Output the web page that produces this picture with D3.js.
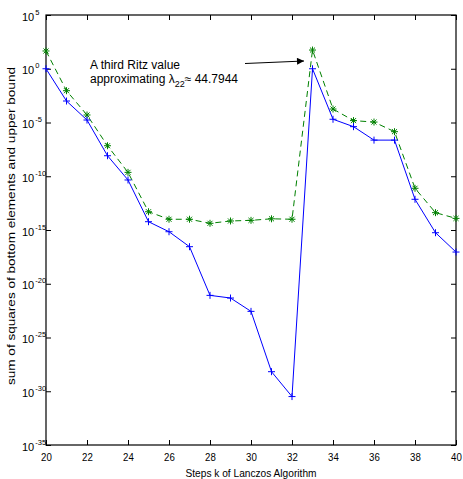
<!DOCTYPE html>
<html>
<head>
<meta charset="utf-8">
<script src="https://cdn.jsdelivr.net/npm/d3@7"></script>
<style>
  body { margin: 0; background: #fff; }
  svg { display: block; }
</style>
</head>
<body>
<div id="visualization"></div>
<script>
// data
const steps = [20, 21, 22, 23, 24, 25, 26, 27, 28, 29, 30, 31, 32, 33, 34, 35, 36, 37, 38, 39, 40];
const sumSquares = [1, 1e-3, 1.7e-5, 8.1e-9, 4.5e-11, 5.9e-15, 6.9e-16, 2.8e-17, 8.3e-22, 4.7e-22, 2.7e-23,
  6.6e-29, 3.2e-31, 1, 2.0e-5, 4.1e-6, 2.3e-7, 2.3e-7, 7.2e-13, 5.6e-16, 8.9e-18];
const upperBound = [45, 9.1e-3, 5.0e-5, 6.9e-8, 2.3e-10, 5.0e-14, 1.0e-14, 1.0e-14, 4.2e-15, 6.9e-15, 7.9e-15,
  1.1e-14, 1.0e-14, 55, 1.8e-4, 1.5e-5, 1.1e-5, 1.4e-6, 7.6e-12, 4.1e-14, 1.2e-14];
const xTicks = [20, 22, 24, 26, 28, 30, 32, 34, 36, 38, 40];
const yTickExponents = [5, 0, -5, -10, -15, -20, -25, -30, -35];

const viewBox = { width: 463, height: 479, left: 46, right: 456, top: 15, bottom: 445 };
const font = "Arial, 'Liberation Sans', Helvetica, sans-serif";

const svg = d3
  .select("#visualization")
  .append("svg")
  .attr("width", viewBox.width)
  .attr("height", viewBox.height);

// scales
const xScale = d3.scaleLinear().domain([20, 40]).range([viewBox.left, viewBox.right]);
const yScale = d3.scaleLog().domain([1e-35, 1e5]).range([viewBox.bottom, viewBox.top]);
const yTicks = yTickExponents.map((e) => Math.pow(10, e));

// bottom axis with labels, ticks pointing inside
const xAxis = svg
  .append("g")
  .attr("transform", "translate(0," + viewBox.bottom + ")")
  .call(d3.axisBottom(xScale).tickValues(xTicks).tickSizeInner(-5).tickSizeOuter(0).tickPadding(8));
xAxis.selectAll(".tick text")
  .attr("font-size", 11)
  .attr("font-family", font)
  .attr("fill", "#000")
  .attr("transform", "scale(0.88,1)");

// top axis, ticks only
svg
  .append("g")
  .attr("transform", "translate(0," + viewBox.top + ")")
  .call(d3.axisTop(xScale).tickValues(xTicks).tickSizeInner(-5).tickSizeOuter(0).tickFormat(""));

// left axis with 10^n labels
const yAxis = svg
  .append("g")
  .attr("transform", "translate(" + viewBox.left + ",0)")
  .call(d3.axisLeft(yScale).tickValues(yTicks).tickSizeInner(-5).tickSizeOuter(0).tickFormat(""));
yAxis.selectAll(".tick text").each(function (d, i) {
  const t = d3.select(this)
    .attr("text-anchor", "start")
    .attr("x", -24)
    .attr("dy", null)
    .attr("y", 5)
    .attr("font-family", font)
    .attr("fill", "#000");
  t.append("tspan").attr("font-size", 11).text("10");
  t.append("tspan").attr("font-size", 7.5).attr("dx", 1).attr("dy", -6).text(yTickExponents[i]);
});

// right axis, ticks only
svg
  .append("g")
  .attr("transform", "translate(" + viewBox.right + ",0)")
  .call(d3.axisRight(yScale).tickValues(yTicks).tickSizeInner(-5).tickSizeOuter(0).tickFormat(""));

svg.selectAll(".domain").remove();
svg.selectAll(".tick line").attr("stroke", "#000").attr("stroke-width", 1);

// box
svg
  .append("rect")
  .attr("x", viewBox.left)
  .attr("y", viewBox.top)
  .attr("width", viewBox.right - viewBox.left)
  .attr("height", viewBox.bottom - viewBox.top)
  .attr("fill", "none")
  .attr("stroke", "#000")
  .attr("stroke-width", 1.2);

// upper bound series (green dashed, asterisks)
const line = d3.line().x((d) => xScale(d[0])).y((d) => yScale(d[1]));
const greenData = steps.map((s, i) => [s, upperBound[i]]);
const blueData = steps.map((s, i) => [s, sumSquares[i]]);

svg
  .append("path")
  .datum(greenData)
  .attr("d", line)
  .attr("fill", "none")
  .attr("stroke", "#008000")
  .attr("stroke-width", 1)
  .attr("stroke-dasharray", "6,4");

const r = 3.5;
const d45 = r * 0.72;
svg
  .append("g")
  .selectAll("path")
  .data(greenData)
  .enter()
  .append("path")
  .attr("transform", (d) => "translate(" + xScale(d[0]) + "," + yScale(d[1]) + ")")
  .attr("d", "M" + -r + ",0H" + r + "M0," + -r + "V" + r +
    "M" + -d45 + "," + -d45 + "L" + d45 + "," + d45 + "M" + -d45 + "," + d45 + "L" + d45 + "," + -d45)
  .attr("stroke", "#008000")
  .attr("stroke-width", 1)
  .attr("fill", "none");

// sum of squares series (blue solid, plus signs)
svg
  .append("path")
  .datum(blueData)
  .attr("d", line)
  .attr("fill", "none")
  .attr("stroke", "#0000ff")
  .attr("stroke-width", 1);

svg
  .append("g")
  .selectAll("path")
  .data(blueData)
  .enter()
  .append("path")
  .attr("transform", (d) => "translate(" + xScale(d[0]) + "," + yScale(d[1]) + ")")
  .attr("d", "M" + -r + ",0H" + r + "M0," + -r + "V" + r)
  .attr("stroke", "#0000ff")
  .attr("stroke-width", 1)
  .attr("fill", "none");

// axis titles
svg
  .append("text")
  .attr("x", (viewBox.left + viewBox.right) / 2)
  .attr("y", 477)
  .attr("text-anchor", "middle")
  .attr("font-family", font)
  .attr("font-size", 11)
  .attr("textLength", 131)
  .attr("lengthAdjust", "spacingAndGlyphs")
  .text("Steps k of Lanczos Algorithm");

svg
  .append("text")
  .attr("transform", "translate(15,226) rotate(-90)")
  .attr("text-anchor", "middle")
  .attr("font-family", font)
  .attr("font-size", 11)
  .attr("textLength", 318)
  .attr("lengthAdjust", "spacingAndGlyphs")
  .text("sum of squares of bottom elements and upper bound");

// annotation with arrow
svg
  .append("defs")
  .append("marker")
  .attr("id", "arrow")
  .attr("viewBox", "0 0 10 10")
  .attr("refX", 10)
  .attr("refY", 5)
  .attr("markerWidth", 9)
  .attr("markerHeight", 7)
  .attr("markerUnits", "userSpaceOnUse")
  .attr("orient", "auto")
  .append("path")
  .attr("d", "M0,0L10,5L0,10Z")
  .attr("fill", "#000");

svg
  .append("line")
  .attr("x1", 245)
  .attr("y1", 63.5)
  .attr("x2", 304)
  .attr("y2", 61)
  .attr("stroke", "#000")
  .attr("stroke-width", 1)
  .attr("marker-end", "url(#arrow)");

const note = svg
  .append("text")
  .attr("font-family", font)
  .attr("font-size", 12)
  .attr("fill", "#000");
note.append("tspan").attr("x", 90).attr("y", 69).text("A third Ritz value");
note.append("tspan").attr("x", 90).attr("y", 83).text("approximating λ");
note.append("tspan").attr("font-size", 9).attr("dy", 4).text("22");
note.append("tspan").attr("dy", -4).text("≈ 44.7944");
</script>
</body>
</html>
